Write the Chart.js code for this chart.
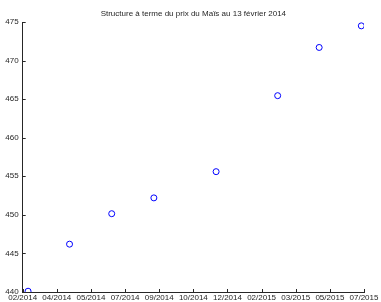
<!DOCTYPE html>
<html>
<head>
<meta charset="utf-8">
<script src="https://cdn.jsdelivr.net/npm/chart.js@4/dist/chart.umd.min.js"></script>
<style>
  html, body { margin: 0; padding: 0; background: #fff; }
  #wrap { width: 381px; height: 302px; }
</style>
</head>
<body>
<div id="wrap"><canvas id="courbe"></canvas></div>
<script>
// axe des dates : départ au 13/02/2014, une graduation tous les 51 jours
let axisStart = '2014-02-13';
let tickStepDays = 51;
let tickLabels = ['02/2014', '04/2014', '05/2014', '07/2014', '09/2014', '10/2014',
                  '12/2014', '02/2015', '03/2015', '05/2015', '07/2015'];

// échéances et prix
let contractDates = ['2014-02-21', '2014-04-24', '2014-06-26', '2014-08-28',
                     '2014-11-29', '2015-03-01', '2015-05-02', '2015-07-04'];
let prices = [440.1, 446.2, 450.15, 452.2, 455.6, 465.45, 471.7, 474.5];

let yTicks = [440, 445, 450, 455, 460, 465, 470, 475];

function daysFromStart(d){
    return (Date.parse(d) - Date.parse(axisStart)) / 86400000;
}

let points = contractDates.map(function(d, i){
    return {x: daysFromStart(d), y: prices[i]};
});

let axisCol = '#262626';
let textCol = '#262626';

// petites graduations vers l'intérieur, comme dans matlab
let innerTicks = {
    id: 'innerTicks',
    afterDraw: function(chart){
        var ctx = chart.ctx;
        var area = chart.chartArea;
        var len = 3;
        ctx.save();
        ctx.strokeStyle = axisCol;
        ctx.lineWidth = 1;
        ctx.beginPath();
        chart.scales.x.ticks.forEach(function(t){
            var px = Math.round(chart.scales.x.getPixelForValue(t.value)) + 0.5;
            ctx.moveTo(px, area.bottom);
            ctx.lineTo(px, area.bottom - len);
        });
        chart.scales.y.ticks.forEach(function(t){
            var py = Math.round(chart.scales.y.getPixelForValue(t.value)) + 0.5;
            ctx.moveTo(area.left, py);
            ctx.lineTo(area.left + len, py);
        });
        ctx.stroke();
        ctx.restore();
    }
};

Chart.defaults.font.family = '"Liberation Sans", Arial, Helvetica, sans-serif';
Chart.defaults.font.size = 8;
Chart.defaults.color = textCol;

var ctx = document.getElementById('courbe').getContext('2d');
var courbe = new Chart(ctx, {
    type: 'scatter',
    data: {
        datasets: [{
            label: 'Prix',
            data: points,
            showLine: false,
            pointStyle: 'circle',
            pointRadius: 3,
            pointHoverRadius: 3,
            pointBorderWidth: 1,
            pointBorderColor: '#0000ff',
            pointBackgroundColor: 'rgba(0,0,0,0)'
        }]
    },
    options: {
        responsive: true,
        maintainAspectRatio: false,
        animation: false,
        layout: {
            padding: {left: 0, right: 17, top: 0, bottom: 0}
        },
        plugins: {
            legend: {display: false},
            tooltip: {enabled: false},
            title: {
                display: true,
                fullSize: false,
                text: 'Structure à terme du prix du Maïs au 13 février 2014',
                color: textCol,
                font: {size: 8, weight: 'normal'},
                padding: {top: 9, bottom: 3.4}
            }
        },
        scales: {
            x: {
                type: 'linear',
                min: 0,
                max: tickStepDays * (tickLabels.length - 1),
                grid: {display: false, drawTicks: false},
                border: {display: true, color: axisCol, width: 1},
                ticks: {
                    stepSize: tickStepDays,
                    autoSkip: false,
                    maxRotation: 0,
                    padding: 1,
                    color: textCol,
                    callback: function(v, i){ return tickLabels[i]; }
                },
                afterFit: function(s){ s.height = 10; }
            },
            y: {
                min: yTicks[0],
                max: yTicks[yTicks.length - 1],
                grid: {display: false, drawTicks: false},
                border: {display: true, color: axisCol, width: 1},
                ticks: {
                    stepSize: 5,
                    padding: 4,
                    color: textCol
                },
                afterFit: function(s){ s.width = 22.7; }
            }
        }
    },
    plugins: [innerTicks]
});
</script>
</body>
</html>
